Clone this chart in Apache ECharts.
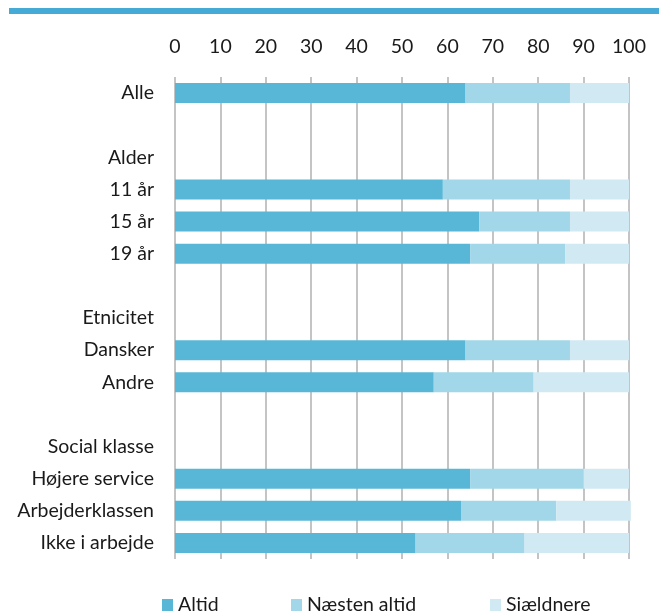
<!DOCTYPE html>
<html>
<head>
<meta charset="utf-8">
<script src="https://cdn.jsdelivr.net/npm/echarts@6/dist/echarts.min.js"></script>
<style>
html,body{margin:0;padding:0;background:#fff;}
#chart{width:659px;height:611px;}
</style>
</head>
<body>
<div id="chart"></div>
<script>
var categories = ['Alle', '', 'Alder', '11 år', '15 år', '19 år', ' ', 'Etnicitet', 'Dansker', 'Andre', '  ', 'Social klasse', 'Højere service', 'Arbejderklassen', 'Ikke i arbejde'];
var altid      = [64, null, null, 59, 67, 65, null, null, 64, 57, null, null, 65, 63, 53];
var naestenAltid = [23, null, null, 28, 20, 21, null, null, 23, 22, null, null, 25, 21, 24];
var sjaeldnere = [13, null, null, 13, 13, 14, null, null, 13, 21, null, null, 10, 16.4, 23];
var seriesNames = ['Altid', 'Næsten altid', 'Sjældnere'];

var FONT = 'Lato';
var FS = 19.5;
var chart = echarts.init(document.getElementById('chart'), null, {renderer: 'canvas'});
function bar(name, data, color) {
  return {
    name: name, type: 'bar', stack: 'total', data: data, barWidth: 20,
    clip: false,
    itemStyle: {color: color},
    emphasis: {disabled: true}
  };
}
function legend(name, left) {
  return {
    left: left, top: 595, padding: 0, itemWidth: 11, itemHeight: 12, itemGap: 0,
    icon: 'rect', selectedMode: false,
    textStyle: {color: '#1a1a1a', fontFamily: FONT, fontSize: FS},
    data: [name]
  };
}
chart.setOption({
  animation: false,
  graphic: [{
    type: 'rect', shape: {x: 9, y: 8, width: 650, height: 6},
    style: {fill: '#45abd6'}
  }],
  grid: {left: 175, right: 30, top: 77, height: 482, containLabel: false},
  xAxis: {
    type: 'value', position: 'top', min: 0, max: 100, interval: 10,
    axisLine: {show: false}, axisTick: {show: false},
    axisLabel: {color: '#1a1a1a', fontFamily: FONT, fontSize: FS, margin: 20},
    splitLine: {show: true, lineStyle: {color: '#c4c4c4', width: 2}}
  },
  yAxis: {
    type: 'category', data: categories, inverse: true,
    axisLine: {show: false}, axisTick: {show: false},
    axisLabel: {color: '#1a1a1a', fontFamily: FONT, fontSize: FS, margin: 21, interval: 0}
  },
  legend: [legend(seriesNames[0], 162), legend(seriesNames[1], 291), legend(seriesNames[2], 490)],
  series: [
    bar(seriesNames[0], altid, '#58b7d7'),
    bar(seriesNames[1], naestenAltid, '#a1d7e9'),
    bar(seriesNames[2], sjaeldnere, '#d1e9f3')
  ]
});
</script>
</body>
</html>
